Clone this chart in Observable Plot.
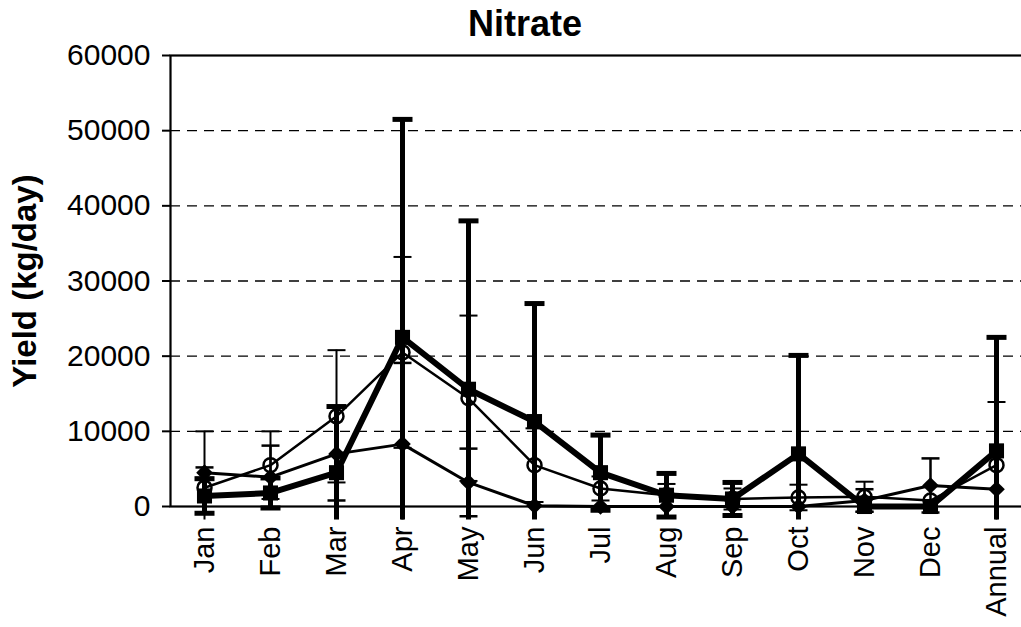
<!DOCTYPE html>
<html><head><meta charset="utf-8">
<script src="https://cdn.jsdelivr.net/npm/d3@7"></script>
<script src="https://cdn.jsdelivr.net/npm/@observablehq/plot@0.6"></script>
<style>body{margin:0;background:#fff} #chart svg{display:block}</style>
</head><body><div id="chart"></div>
<script>
const months = ["Jan","Feb","Mar","Apr","May","Jun","Jul","Aug","Sep","Oct","Nov","Dec","Annual"];
// thick line, filled squares
const squareMean = [1400, 1800, 4500, 22500, 15600, 11300, 4500, 1500, 1000, 7000, 0, 0, 7400];
const squareErr  = [2300, 2000, 8800, 29000, 22400, 15700, 5000, 2900, 2200, 13100, 0, 0, 15100];
// medium line, filled diamonds
const diamondMean = [4500, 3900, 7000, 8300, 3200, 100, 0, 0, 0, 0, 800, 2800, 2300];
const diamondErr  = [700, 4200, 6200, 10800, 4500, 0, 0, 0, 0, 0, 1500, 3600, 0];
// thin line, open circles
const circleMean = [2500, 5500, 12000, 20500, 14400, 5500, 2400, 1500, 1000, 1200, 1300, 800, 5500];
const circleErr  = [7500, 4500, 8800, 12700, 11000, 4900, 1600, 1500, 1400, 1700, 2000, 0, 8400];

const yTicks = [0, 10000, 20000, 30000, 40000, 50000, 60000];
const gridTicks = [10000, 20000, 30000, 40000, 50000];
const titleText = "Nitrate";
const yLabel = "Yield (kg/day)";
const FLOOR = -1800; // error bars are cut just below the axis

function rows(mean, err) {
  return months.map((m, i) => ({
    month: m, value: mean[i], err: err[i],
    lo: Math.max(mean[i] - err[i], FLOOR), hi: mean[i] + err[i],
    loCap: mean[i] - err[i] > FLOOR
  }));
}
const sq = rows(squareMean, squareErr);
const di = rows(diamondMean, diamondErr);
const ci = rows(circleMean, circleErr);

const capSymbol = {draw(ctx, size) { const r = Math.sqrt(size / Math.PI); ctx.moveTo(-r, 0); ctx.lineTo(r, 0); }};

function errMarks(data, sw, capR) {
  const e = data.filter(d => d.err > 0);
  return [
    Plot.ruleX(e, {x: "month", y1: "lo", y2: "hi", stroke: "black", strokeWidth: sw}),
    Plot.dot(e, {x: "month", y: "hi", symbol: capSymbol, r: capR, stroke: "black", strokeWidth: sw, fill: "none", strokeLinecap: "butt"}),
    Plot.dot(e.filter(d => d.loCap), {x: "month", y: "lo", symbol: capSymbol, r: capR, stroke: "black", strokeWidth: sw, fill: "none", strokeLinecap: "butt"})
  ];
}

const chart = Plot.plot({
  width: 1021, height: 627,
  marginLeft: 170, marginRight: -8, marginTop: 55, marginBottom: 121,
  style: {fontFamily: "'Liberation Sans', Arial, sans-serif", color: "black", background: "white"},
  x: {type: "point", domain: months, padding: 0.5, label: null},
  y: {domain: [0, 60000], label: null},
  marks: [
    Plot.ruleY(gridTicks, {stroke: "black", strokeWidth: 1.3, strokeDasharray: "10,7"}),
    Plot.frame({stroke: "black", strokeWidth: 2.2}),
    Plot.axisY({ticks: yTicks, tickSize: 8, tickPadding: 12, fontSize: 30, strokeWidth: 2, tickFormat: d3.format("d"), label: null}),
    Plot.axisX({tickSize: 0, tickPadding: 20, tickRotate: -90, fontSize: 29, label: null}),
    ...errMarks(ci, 2, 9),
    ...errMarks(di, 2.5, 9),
    ...errMarks(sq, 5, 10),
    Plot.line(ci, {x: "month", y: "value", stroke: "black", strokeWidth: 2.5}),
    Plot.line(di, {x: "month", y: "value", stroke: "black", strokeWidth: 3}),
    Plot.line(sq, {x: "month", y: "value", stroke: "black", strokeWidth: 6}),
    Plot.dot(di, {x: "month", y: "value", symbol: "diamond2", r: 7.5, fill: "black", stroke: "none"}),
    Plot.dot(sq, {x: "month", y: "value", symbol: "square", r: 8.5, fill: "black", stroke: "none"}),
    Plot.dot(ci, {x: "month", y: "value", symbol: "circle", r: 7, fill: "none", stroke: "black", strokeWidth: 2.5}),
    Plot.text([titleText], {text: d => d, frameAnchor: "top", lineAnchor: "middle", dx: -75, dy: -31, fontSize: 36, fontWeight: "bold"}),
    Plot.text([yLabel], {text: d => d, frameAnchor: "left", textAnchor: "middle", lineAnchor: "middle", dx: -145, rotate: -90, fontSize: 33, fontWeight: "bold"})
  ]
});
document.getElementById("chart").appendChild(chart);
</script>
</body></html>
